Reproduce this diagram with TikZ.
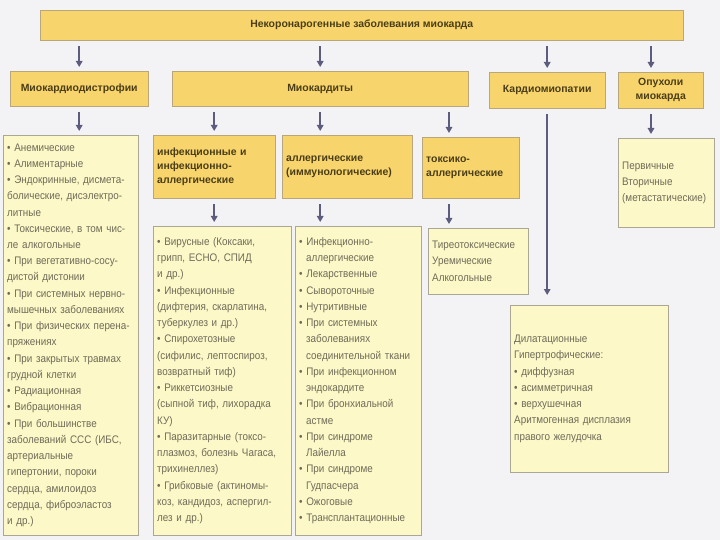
\documentclass[tikz,border=0pt]{standalone}
\usepackage{fontspec}
\setmainfont{Liberation Sans}
\newfontfamily\listfont[FakeStretch=0.9]{Liberation Sans}
\usetikzlibrary{arrows.meta}
\hyphenpenalty=10000
\exhyphenpenalty=10000
\definecolor{pagebg}{HTML}{F3F2F4}
\definecolor{headfill}{HTML}{F8D56C}
\definecolor{headline}{HTML}{B8A77C}
\definecolor{headtext}{HTML}{4A3D17}
\definecolor{listfill}{HTML}{FCF8C8}
\definecolor{listline}{HTML}{AAA794}
\definecolor{listtext}{HTML}{6F6B58}
\definecolor{arrowgray}{HTML}{5C5C7E}
\tikzset{headbox/.style={draw=headline,fill=headfill,text=headtext,anchor=north west,
font=\bfseries\fontsize{10.5}{14}\selectfont,inner sep=3bp,align=center},
subbox/.style={headbox,align=left,inner xsep=4bp},
listbox/.style={draw=listline,fill=listfill,text=listtext,anchor=north west,
font=\listfont\fontsize{11}{16.3}\selectfont,inner xsep=4bp,inner ysep=0bp,align=left},
arr/.style={-{Triangle[length=6bp,width=6.5bp]},line width=1.8bp,arrowgray,
shorten <=6bp,shorten >=4bp}}

\begin{document}
\begin{tikzpicture}[x=1bp,y=-1bp]
\useasboundingbox (0,0) rectangle (720,540);
\fill[pagebg] (0,0) rectangle (720,540);
% top rows
\node[headbox,minimum width=643bp,minimum height=30bp] (root) at (40,10) {Некоронарогенные заболевания миокарда};
\node[headbox,minimum width=138bp,minimum height=35bp] (dys) at (10,71) {Миокардиодистрофии};
\node[headbox,minimum width=296bp,minimum height=35bp] (myo) at (172,71) {Миокардиты};
\node[headbox,minimum width=116bp,minimum height=36bp] (card) at (489,72) {Кардиомиопатии};
\node[headbox,minimum width=85bp,minimum height=36bp] (tum) at (618,72) {Опухоли\\миокарда};
\node[subbox,text width=114bp,minimum height=63bp] (inf) at (153,135) {инфекционные и\\инфекционно-\\аллергические};
\node[subbox,text width=122bp,minimum height=63bp] (alg) at (282,135) {аллергические\\(иммунологические)};
\node[subbox,text width=89bp,minimum height=61bp] (tox) at (422,137) {токсико-\\аллергические};
% lists
\node[listbox,text width=127bp,minimum height=400bp] (dyslist) at (3,135) {%
• Анемические\\• Алиментарные\\• Эндокринные, дисмета-\\болические, дисэлектро-\\литные\\%
• Токсические, в том чис-\\ле алкогольные\\• При вегетативно-сосу-\\дистой дистонии\\%
• При системных нервно-\\мышечных заболеваниях\\• При физических перена-\\пряжениях\\%
• При закрытых травмах\\грудной клетки\\• Радиационная\\• Вибрационная\\%
• При большинстве\\заболеваний ССС (ИБС,\\артериальные\\гипертонии, пороки\\%
сердца, амилоидоз\\сердца, фиброэластоз\\и др.)};
\node[listbox,text width=130bp,minimum height=309bp] (inflist) at (153,226) {%
• Вирусные (Коксаки,\\грипп, ЕСНО, СПИД\\и др.)\\• Инфекционные\\(дифтерия, скарлатина,\\%
туберкулез и др.)\\• Спирохетозные\\(сифилис, лептоспироз,\\возвратный тиф)\\%
• Риккетсиозные\\(сыпной тиф, лихорадка\\КУ)\\• Паразитарные (токсо-\\%
плазмоз, болезнь Чагаса,\\трихинеллез)\\• Грибковые (актиномы-\\коз, кандидоз, аспергил-\\лез и др.)};
\node[listbox,text width=118bp,minimum height=309bp] (alglist) at (295,226) {%
• Инфекционно-\\\hspace*{7bp}аллергические\\• Лекарственные\\• Сывороточные\\• Нутритивные\\%
• При системных\\\hspace*{7bp}заболеваниях\\\hspace*{7bp}соединительной ткани\\%
• При инфекционном\\\hspace*{7bp}эндокардите\\• При бронхиальной\\\hspace*{7bp}астме\\%
• При синдроме\\\hspace*{7bp}Лайелла\\• При синдроме\\\hspace*{7bp}Гудпасчера\\%
• Ожоговые\\• Трансплантационные};
\node[listbox,text width=92bp,minimum height=66bp] (toxlist) at (428,228) {Тиреотоксические\\Уремические\\Алкогольные};
\node[listbox,text width=88bp,minimum height=89bp] (tumlist) at (618,138) {Первичные\\Вторичные\\(метастатические)};
\node[listbox,text width=150bp,minimum height=167bp] (cardlist) at (510,305) {%
Дилатационные\\Гипертрофические:\\• диффузная\\• асимметричная\\• верхушечная\\%
Аритмогенная дисплазия\\правого желудочка};
\coordinate (toxx) at (449,0);
\coordinate (tumx) at (651,0);
% arrows
\foreach \b in {dys,myo,card} \draw[arr] (root.south -| \b.north) -- (\b.north);
\draw[arr] (root.south -| tumx) -- (tum.north -| tumx);
\draw[arr] (dys.south) -- (dys.south |- dyslist.north);
\draw[arr] (myo.south -| inf.north) -- (inf.north);
\draw[arr] (myo.south) -- (myo.south |- alg.north);
\draw[arr] (myo.south -| toxx) -- (tox.north -| toxx);
\draw[arr,shorten >=10bp] (card.south) -- (card.south |- cardlist.north);
\draw[arr] (tum.south -| tumx) -- (tumlist.north -| tumx);
\draw[arr] (inf.south) -- (inf.south |- inflist.north);
\draw[arr] (alg.south -| myo.south) -- (alglist.north -| myo.south);
\draw[arr] (tox.south -| toxx) -- (toxlist.north -| toxx);
\end{tikzpicture}
\end{document}
